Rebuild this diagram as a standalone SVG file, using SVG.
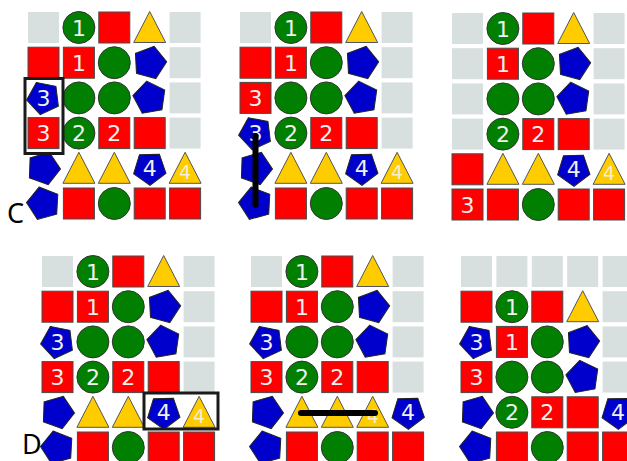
<svg xmlns="http://www.w3.org/2000/svg" xmlns:xlink="http://www.w3.org/1999/xlink" width="627" height="461" viewBox="0 0 627 461">
<style>
.r{fill:#ff0000;stroke:#4a4a4a;stroke-width:1}
.gr{fill:#007f00;stroke:#333;stroke-width:1}
.y{fill:#ffcc00;stroke:#555;stroke-width:1}
.b{fill:#0000cc;stroke:#222;stroke-width:1}
.n{font-family:"DejaVu Sans",sans-serif;font-size:22px;fill:#f0f0f0;text-anchor:middle}
.n4{font-family:"DejaVu Sans",sans-serif;font-size:19px;fill:#f3efd8;text-anchor:middle}
.fr{fill:none;stroke:#1a1a1a;stroke-width:3}
.bar{stroke:#000;stroke-width:6;stroke-linecap:round}
.lab{font-family:"Noto Sans",sans-serif;font-size:27px;fill:#000}
</style>
<defs>
<rect id="g" x="-15.5" y="-15.5" width="31" height="31" fill="#d8dfdf"/>
<rect id="s" x="-15.5" y="-15.5" width="31" height="31" class="r"/>
<circle id="o" r="16" class="gr"/>
<polygon id="t" points="0,-16 16,15 -16,15" class="y"/>
<polygon id="p" points="0,-17 16.17,-5.25 9.99,13.75 -9.99,13.75 -16.17,-5.25" class="b"/>
</defs>

<g id="panelC1" transform="translate(28,12)">
<use href="#g" x="15.5" y="15.5"/><use href="#o" x="50.9" y="15.5"/><use href="#s" x="86.3" y="15.5"/><use href="#t" x="121.7" y="15.5"/><use href="#g" x="157.1" y="15.5"/>
<use href="#s" x="15.5" y="50.7"/><use href="#s" x="50.9" y="50.7"/><use href="#o" x="86.3" y="50.7"/><use href="#p" transform="translate(121.7,50.7) rotate(15)"/><use href="#g" x="157.1" y="50.7"/>
<use href="#p" transform="translate(15.5,85.9) rotate(-25)"/><use href="#o" x="50.9" y="85.9"/><use href="#o" x="86.3" y="85.9"/><use href="#p" transform="translate(121.7,85.9) rotate(-10)"/><use href="#g" x="157.1" y="85.9"/>
<use href="#s" x="15.5" y="121.1"/><use href="#o" x="50.9" y="121.1"/><use href="#s" x="86.3" y="121.1"/><use href="#s" x="121.7" y="121.1"/><use href="#g" x="157.1" y="121.1"/>
<use href="#p" transform="translate(15.5,156.3) rotate(20)"/><use href="#t" x="50.9" y="156.3"/><use href="#t" x="86.3" y="156.3"/><use href="#p" transform="translate(121.7,156.3) rotate(35)"/><use href="#t" x="157.1" y="156.3"/>
<use href="#p" transform="translate(15.5,191.5) rotate(-15)"/><use href="#s" x="50.9" y="191.5"/><use href="#o" x="86.3" y="191.5"/><use href="#s" x="121.7" y="191.5"/><use href="#s" x="157.1" y="191.5"/>
<text class="n" x="50.9" y="23.5">1</text><text class="n" x="50.9" y="58.7">1</text><text class="n" x="15.5" y="93.9">3</text><text class="n" x="15.5" y="129.1">3</text><text class="n" x="50.9" y="129.1">2</text><text class="n" x="86.3" y="129.1">2</text><text class="n" x="121.7" y="164.3">4</text><text class="n4" x="157.1" y="166.5">4</text>
<rect class="fr" x="-3" y="66.5" width="38" height="75"/>
</g>

<g id="panelC2" transform="translate(240,12)">
<use href="#g" x="15.5" y="15.5"/><use href="#o" x="50.9" y="15.5"/><use href="#s" x="86.3" y="15.5"/><use href="#t" x="121.7" y="15.5"/><use href="#g" x="157.1" y="15.5"/>
<use href="#s" x="15.5" y="50.7"/><use href="#s" x="50.9" y="50.7"/><use href="#o" x="86.3" y="50.7"/><use href="#p" transform="translate(121.7,50.7) rotate(15)"/><use href="#g" x="157.1" y="50.7"/>
<use href="#s" x="15.5" y="85.9"/><use href="#o" x="50.9" y="85.9"/><use href="#o" x="86.3" y="85.9"/><use href="#p" transform="translate(121.7,85.9) rotate(-10)"/><use href="#g" x="157.1" y="85.9"/>
<use href="#p" transform="translate(15.5,121.1) rotate(-25)"/><use href="#o" x="50.9" y="121.1"/><use href="#s" x="86.3" y="121.1"/><use href="#s" x="121.7" y="121.1"/><use href="#g" x="157.1" y="121.1"/>
<use href="#p" transform="translate(15.5,156.3) rotate(20)"/><use href="#t" x="50.9" y="156.3"/><use href="#t" x="86.3" y="156.3"/><use href="#p" transform="translate(121.7,156.3) rotate(35)"/><use href="#t" x="157.1" y="156.3"/>
<use href="#p" transform="translate(15.5,191.5) rotate(-15)"/><use href="#s" x="50.9" y="191.5"/><use href="#o" x="86.3" y="191.5"/><use href="#s" x="121.7" y="191.5"/><use href="#s" x="157.1" y="191.5"/>
<text class="n" x="50.9" y="23.5">1</text><text class="n" x="50.9" y="58.7">1</text><text class="n" x="15.5" y="93.9">3</text><text class="n" x="15.5" y="129.1">3</text><text class="n" x="50.9" y="129.1">2</text><text class="n" x="86.3" y="129.1">2</text><text class="n" x="121.7" y="164.3">4</text><text class="n4" x="157.1" y="166.5">4</text>
<line class="bar" x1="15.5" y1="124" x2="15.5" y2="193"/>
</g>

<g id="panelC3" transform="translate(452,13)">
<use href="#g" x="15.5" y="15.5"/><use href="#o" x="50.9" y="15.5"/><use href="#s" x="86.3" y="15.5"/><use href="#t" x="121.7" y="15.5"/><use href="#g" x="157.1" y="15.5"/>
<use href="#g" x="15.5" y="50.7"/><use href="#s" x="50.9" y="50.7"/><use href="#o" x="86.3" y="50.7"/><use href="#p" transform="translate(121.7,50.7) rotate(15)"/><use href="#g" x="157.1" y="50.7"/>
<use href="#g" x="15.5" y="85.9"/><use href="#o" x="50.9" y="85.9"/><use href="#o" x="86.3" y="85.9"/><use href="#p" transform="translate(121.7,85.9) rotate(-10)"/><use href="#g" x="157.1" y="85.9"/>
<use href="#g" x="15.5" y="121.1"/><use href="#o" x="50.9" y="121.1"/><use href="#s" x="86.3" y="121.1"/><use href="#s" x="121.7" y="121.1"/><use href="#g" x="157.1" y="121.1"/>
<use href="#s" x="15.5" y="156.3"/><use href="#t" x="50.9" y="156.3"/><use href="#t" x="86.3" y="156.3"/><use href="#p" transform="translate(121.7,156.3) rotate(35)"/><use href="#t" x="157.1" y="156.3"/>
<use href="#s" x="15.5" y="191.5"/><use href="#s" x="50.9" y="191.5"/><use href="#o" x="86.3" y="191.5"/><use href="#s" x="121.7" y="191.5"/><use href="#s" x="157.1" y="191.5"/>
<text class="n" x="50.9" y="23.5">1</text><text class="n" x="50.9" y="58.7">1</text><text class="n" x="50.9" y="129.1">2</text><text class="n" x="86.3" y="129.1">2</text><text class="n" x="121.7" y="164.3">4</text><text class="n4" x="157.1" y="166.5">4</text><text class="n" x="15.5" y="199.5">3</text>
</g>

<g id="panelD1" transform="translate(42,256)">
<use href="#g" x="15.5" y="15.5"/><use href="#o" x="50.9" y="15.5"/><use href="#s" x="86.3" y="15.5"/><use href="#t" x="121.7" y="15.5"/><use href="#g" x="157.1" y="15.5"/>
<use href="#s" x="15.5" y="50.7"/><use href="#s" x="50.9" y="50.7"/><use href="#o" x="86.3" y="50.7"/><use href="#p" transform="translate(121.7,50.7) rotate(15)"/><use href="#g" x="157.1" y="50.7"/>
<use href="#p" transform="translate(15.5,85.9) rotate(-25)"/><use href="#o" x="50.9" y="85.9"/><use href="#o" x="86.3" y="85.9"/><use href="#p" transform="translate(121.7,85.9) rotate(-10)"/><use href="#g" x="157.1" y="85.9"/>
<use href="#s" x="15.5" y="121.1"/><use href="#o" x="50.9" y="121.1"/><use href="#s" x="86.3" y="121.1"/><use href="#s" x="121.7" y="121.1"/><use href="#g" x="157.1" y="121.1"/>
<use href="#p" transform="translate(15.5,156.3) rotate(20)"/><use href="#t" x="50.9" y="156.3"/><use href="#t" x="86.3" y="156.3"/><use href="#p" transform="translate(121.7,156.3) rotate(35)"/><use href="#t" x="157.1" y="156.3"/>
<use href="#p" transform="translate(15.5,191.5) rotate(-15)"/><use href="#s" x="50.9" y="191.5"/><use href="#o" x="86.3" y="191.5"/><use href="#s" x="121.7" y="191.5"/><use href="#s" x="157.1" y="191.5"/>
<text class="n" x="50.9" y="23.5">1</text><text class="n" x="50.9" y="58.7">1</text><text class="n" x="15.5" y="93.9">3</text><text class="n" x="15.5" y="129.1">3</text><text class="n" x="50.9" y="129.1">2</text><text class="n" x="86.3" y="129.1">2</text><text class="n" x="121.7" y="164.3">4</text><text class="n4" x="157.1" y="166.5">4</text>
<rect class="fr" x="102" y="137" width="74" height="36"/>
</g>

<g id="panelD2" transform="translate(251,256)">
<use href="#g" x="15.5" y="15.5"/><use href="#o" x="50.9" y="15.5"/><use href="#s" x="86.3" y="15.5"/><use href="#t" x="121.7" y="15.5"/><use href="#g" x="157.1" y="15.5"/>
<use href="#s" x="15.5" y="50.7"/><use href="#s" x="50.9" y="50.7"/><use href="#o" x="86.3" y="50.7"/><use href="#p" transform="translate(121.7,50.7) rotate(15)"/><use href="#g" x="157.1" y="50.7"/>
<use href="#p" transform="translate(15.5,85.9) rotate(-25)"/><use href="#o" x="50.9" y="85.9"/><use href="#o" x="86.3" y="85.9"/><use href="#p" transform="translate(121.7,85.9) rotate(-10)"/><use href="#g" x="157.1" y="85.9"/>
<use href="#s" x="15.5" y="121.1"/><use href="#o" x="50.9" y="121.1"/><use href="#s" x="86.3" y="121.1"/><use href="#s" x="121.7" y="121.1"/><use href="#g" x="157.1" y="121.1"/>
<use href="#p" transform="translate(15.5,156.3) rotate(20)"/><use href="#t" x="50.9" y="156.3"/><use href="#t" x="86.3" y="156.3"/><use href="#t" x="121.7" y="156.3"/><use href="#p" transform="translate(157.1,156.3) rotate(35)"/>
<use href="#p" transform="translate(15.5,191.5) rotate(-15)"/><use href="#s" x="50.9" y="191.5"/><use href="#o" x="86.3" y="191.5"/><use href="#s" x="121.7" y="191.5"/><use href="#s" x="157.1" y="191.5"/>
<text class="n" x="50.9" y="23.5">1</text><text class="n" x="50.9" y="58.7">1</text><text class="n" x="15.5" y="93.9">3</text><text class="n" x="15.5" y="129.1">3</text><text class="n" x="50.9" y="129.1">2</text><text class="n" x="86.3" y="129.1">2</text><text class="n4" x="121.7" y="166.5">4</text><text class="n" x="157.1" y="164.3">4</text>
<line class="bar" x1="50" y1="157" x2="124" y2="157"/>
</g>

<g id="panelD3" transform="translate(461,256)">
<use href="#g" x="15.5" y="15.5"/><use href="#g" x="50.9" y="15.5"/><use href="#g" x="86.3" y="15.5"/><use href="#g" x="121.7" y="15.5"/><use href="#g" x="157.1" y="15.5"/>
<use href="#s" x="15.5" y="50.7"/><use href="#o" x="50.9" y="50.7"/><use href="#s" x="86.3" y="50.7"/><use href="#t" x="121.7" y="50.7"/><use href="#g" x="157.1" y="50.7"/>
<use href="#p" transform="translate(15.5,85.9) rotate(-25)"/><use href="#s" x="50.9" y="85.9"/><use href="#o" x="86.3" y="85.9"/><use href="#p" transform="translate(121.7,85.9) rotate(15)"/><use href="#g" x="157.1" y="85.9"/>
<use href="#s" x="15.5" y="121.1"/><use href="#o" x="50.9" y="121.1"/><use href="#o" x="86.3" y="121.1"/><use href="#p" transform="translate(121.7,121.1) rotate(-10)"/><use href="#g" x="157.1" y="121.1"/>
<use href="#p" transform="translate(15.5,156.3) rotate(20)"/><use href="#o" x="50.9" y="156.3"/><use href="#s" x="86.3" y="156.3"/><use href="#s" x="121.7" y="156.3"/><use href="#p" transform="translate(157.1,156.3) rotate(35)"/>
<use href="#p" transform="translate(15.5,191.5) rotate(-15)"/><use href="#s" x="50.9" y="191.5"/><use href="#o" x="86.3" y="191.5"/><use href="#s" x="121.7" y="191.5"/><use href="#s" x="157.1" y="191.5"/>
<text class="n" x="50.9" y="58.7">1</text><text class="n" x="15.5" y="93.9">3</text><text class="n" x="50.9" y="93.9">1</text><text class="n" x="15.5" y="129.1">3</text><text class="n" x="50.9" y="164.3">2</text><text class="n" x="86.3" y="164.3">2</text><text class="n" x="157.1" y="164.3">4</text>
</g>

<g id="labels">
<text class="lab" x="7" y="223">C</text>
<text class="lab" x="22" y="454" font-size="25">D</text>
</g>
</svg>
